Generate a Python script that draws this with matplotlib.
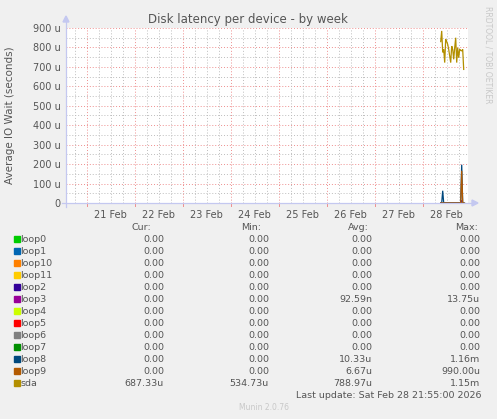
import numpy as np
import matplotlib
matplotlib.use("Agg")
import matplotlib.pyplot as plt

W, H = 497, 419

# data: 30 min samples on 28 Feb, 09:00 .. 20:30 (values in microseconds)
t0 = 7 + 9 / 24.0   # days since 21 Feb 00:00
n_pts = 24
times = t0 + np.arange(n_pts) / 48.0

sda = [830, 885, 775, 790, 722, 842, 830, 816, 790, 756, 722, 807,
       790, 739, 799, 850, 722, 799, 747, 790, 785, 782, 790, 687]
loop3 = [0, 0, 0, 0, 0, 0, 0, 0, 0, 0, 0, 0,
         0, 0, 0, 0, 0, 0, 0, 0, 0, 13.75, 0, 0]
loop8 = [0, 0, 63, 0, 0, 0, 0, 0, 0, 0, 0, 0,
         0, 0, 0, 0, 0, 0, 0, 0, 0, 197, 0, 0]
loop9 = [0, 0, 0, 0, 0, 0, 0, 0, 0, 0, 0, 0,
         0, 0, 0, 0, 0, 0, 0, 0, 0, 166, 0, 0]
zeros = [0] * n_pts

names = ["loop0", "loop1", "loop10", "loop11", "loop2", "loop3", "loop4",
         "loop5", "loop6", "loop7", "loop8", "loop9", "sda"]
colors = ["#00CC00", "#0066B3", "#FF8000", "#FFCC00", "#330099", "#990099",
          "#CCFF00", "#FF0000", "#808080", "#008F00", "#00487D", "#B35A00",
          "#B38F00"]
series = [zeros, zeros, zeros, zeros, zeros, loop3, zeros,
          zeros, zeros, zeros, loop8, loop9, sda]

cur = ["0.00"] * 12 + ["687.33u"]
mins = ["0.00"] * 12 + ["534.73u"]
avgs = ["0.00"] * 5 + ["92.59n"] + ["0.00"] * 4 + ["10.33u", "6.67u", "788.97u"]
maxs = ["0.00"] * 5 + ["13.75u"] + ["0.00"] * 4 + ["1.16m", "990.00u", "1.15m"]

day_labels = ["21 Feb", "22 Feb", "23 Feb", "24 Feb", "25 Feb", "26 Feb",
              "27 Feb", "28 Feb"]

plt.rcParams['font.family'] = 'DejaVu Sans'
txt = "#555555"

fig = plt.figure(figsize=(W / 100, H / 100), dpi=100, facecolor="#F0F0F0")


def fx(x):
    return x / W


def fy(y):
    return 1 - y / H


left, right, top, bottom = 66, 468, 28, 203
ax = fig.add_axes([fx(left), fy(bottom), (right - left) / W, (bottom - top) / H])
ax.set_facecolor("white")

xmin = (left - 86.7) / 48.0
xmax = (right - 86.7) / 48.0
ax.set_xlim(xmin, xmax)
ax.set_ylim(0, 900)

# grid
minor_c = "#BDBDBD"
major_c = "#EE8E8E"
for v in np.arange(50, 900, 100):
    ax.axhline(v, color=minor_c, lw=0.7, ls=(0, (1, 2)), zorder=0)
for v in np.arange(100, 901, 100):
    ax.axhline(v, color=major_c, lw=0.7, ls=(0, (1, 2)), zorder=0)
for d in np.arange(np.ceil(xmin * 4) / 4, xmax, 0.25):
    if abs(d - round(d)) < 1e-6:
        ax.axvline(d, color=major_c, lw=0.7, ls=(0, (1, 2)), zorder=0)
    else:
        ax.axvline(d, color=minor_c, lw=0.7, ls=(0, (1, 2)), zorder=0)

for name, c, s in zip(names, colors, series):
    ax.plot(times, s, color=c, lw=0.9, zorder=3, solid_joinstyle="miter")

for sp in ax.spines.values():
    sp.set_visible(False)

ax.set_yticks(np.arange(0, 901, 100))
ax.set_yticklabels(["0"] + ["%d u" % v for v in range(100, 901, 100)])
ax.set_xticks(np.arange(8) + 0.5)
ax.set_xticklabels(day_labels)
ax.tick_params(axis="both", length=0, labelsize=7, colors=txt, pad=4)
ax.tick_params(axis="x", pad=5)

# small red ticks under the day boundaries
for d in range(0, 8):
    px = 86.7 + 48 * d
    fig.add_artist(plt.Line2D([fx(px), fx(px)], [fy(bottom), fy(bottom + 3)],
                              color=major_c, lw=0.7))

# axis lines with arrows
acol = "#C4C8F0"
fig.add_artist(plt.Line2D([fx(62), fx(472)], [fy(bottom), fy(bottom)], color=acol, lw=0.9))
fig.add_artist(plt.Line2D([fx(left), fx(left)], [fy(207), fy(22)], color=acol, lw=0.9))
fig.add_artist(plt.Polygon([[fx(472), fy(200)], [fx(478), fy(bottom)], [fx(472), fy(206)]],
                           closed=True, color=acol))
fig.add_artist(plt.Polygon([[fx(63), fy(22)], [fx(left), fy(16)], [fx(69), fy(22)]],
                           closed=True, color=acol))

fig.text(fx(248), fy(20), "Disk latency per device - by week", ha="center",
         va="center", fontsize=8.5, color=txt)
fig.text(fx(10), fy(115), "Average IO Wait (seconds)", rotation=90,
         ha="center", va="center", fontsize=7.5, color=txt)
fig.text(fx(488), fy(6), "RRDTOOL / TOBI OETIKER", rotation=270, ha="center",
         va="top", fontsize=5.5, color="#C8C8C8")

# legend table
hy = 227
fig.text(fx(141), fy(hy), "Cur:", ha="center", va="center", fontsize=6.8, color=txt)
fig.text(fx(251), fy(hy), "Min:", ha="center", va="center", fontsize=6.8, color=txt)
fig.text(fx(358), fy(hy), "Avg:", ha="center", va="center", fontsize=6.8, color=txt)
fig.text(fx(467), fy(hy), "Max:", ha="center", va="center", fontsize=6.8, color=txt)

for i, (name, c) in enumerate(zip(names, colors)):
    y = 239 + 12 * i
    fig.add_artist(plt.Rectangle((fx(14), fy(y + 3)), 6 / W, 6 / H, color=c))
    fig.text(fx(20.5), fy(y), name, ha="left", va="center", fontsize=6.8, color=txt)
    fig.text(fx(164), fy(y), cur[i], ha="right", va="center", fontsize=6.8, color=txt)
    fig.text(fx(269), fy(y), mins[i], ha="right", va="center", fontsize=6.8, color=txt)
    fig.text(fx(372), fy(y), avgs[i], ha="right", va="center", fontsize=6.8, color=txt)
    fig.text(fx(480), fy(y), maxs[i], ha="right", va="center", fontsize=6.8, color=txt)

fig.text(fx(482), fy(395), "Last update: Sat Feb 28 21:55:00 2026", ha="right",
         va="center", fontsize=6.8, color=txt)
fig.text(fx(264), fy(407), "Munin 2.0.76", ha="center", va="center",
         fontsize=5.5, color="#C8C8C8")

fig.savefig("out.png", dpi=100, facecolor=fig.get_facecolor())
